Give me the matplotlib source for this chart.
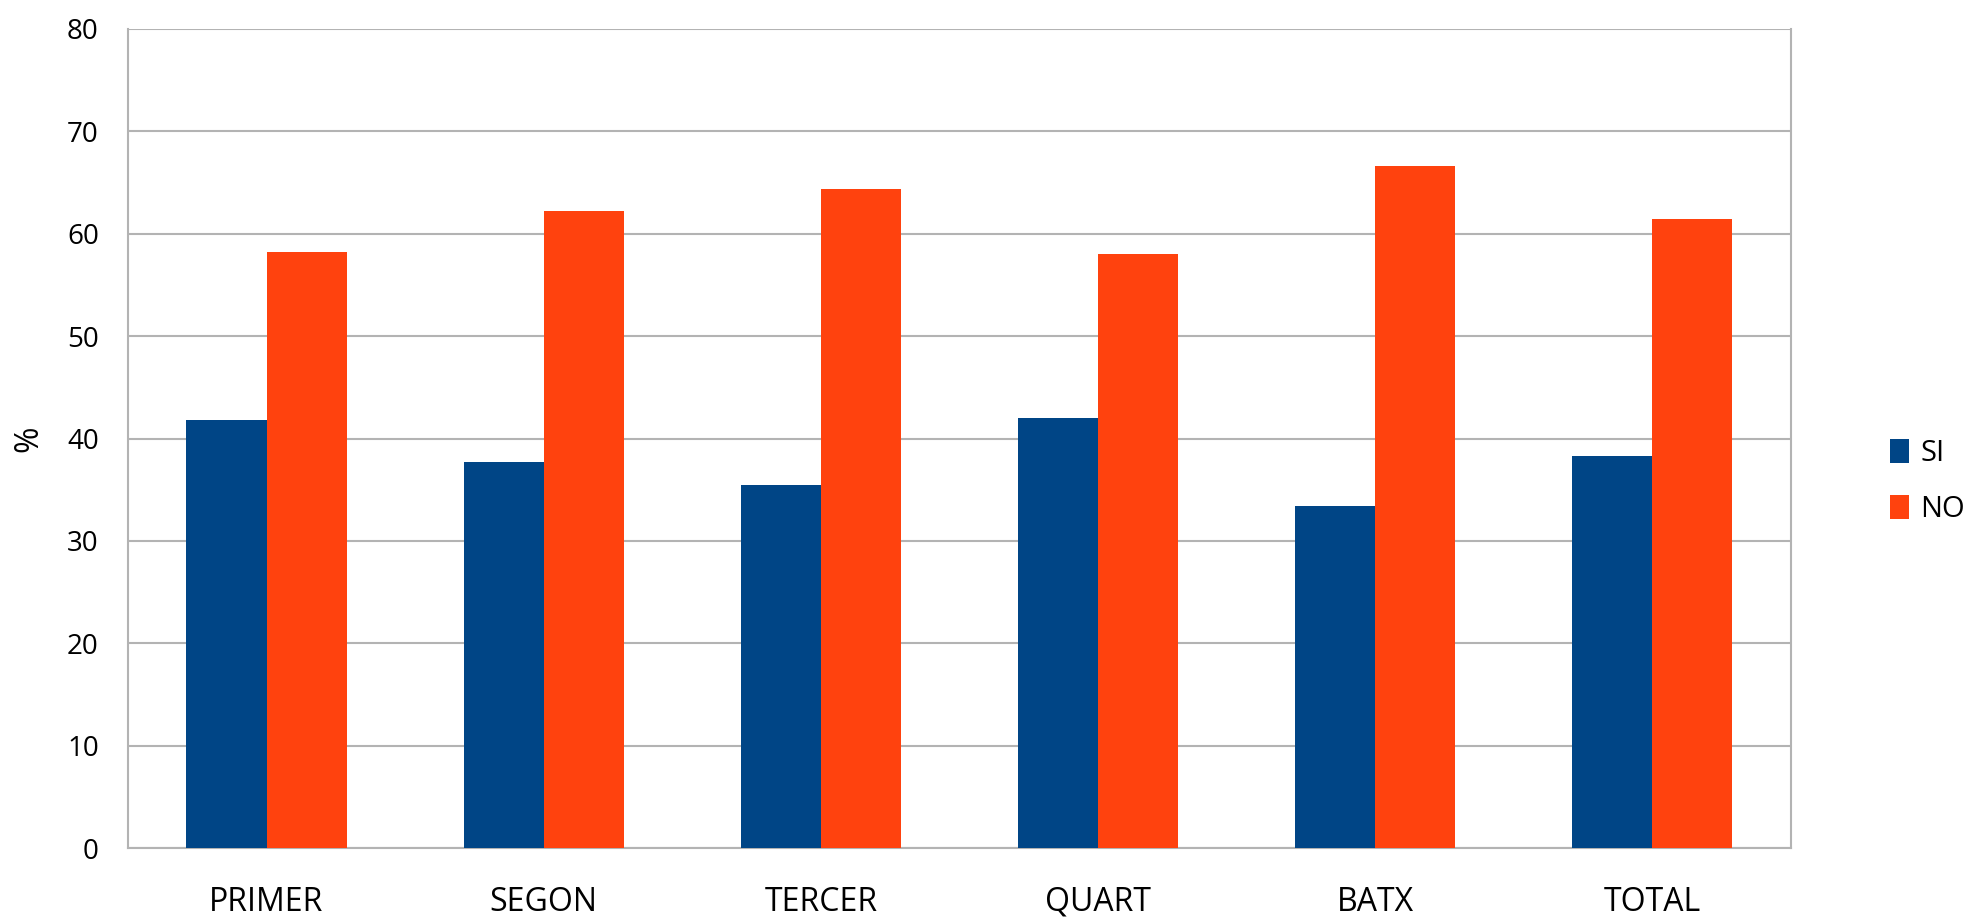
import matplotlib
matplotlib.use("Agg")
import matplotlib.pyplot as plt
import numpy as np

plt.rcParams['font.family'] = ['Open Sans', 'DejaVu Sans']

categories = ['PRIMER', 'SEGON', 'TERCER', 'QUART', 'BATX', 'TOTAL']
si = [41.8, 37.7, 35.5, 42.0, 33.4, 38.3]
no = [58.2, 62.2, 64.4, 58.0, 66.6, 61.4]

fig = plt.figure(figsize=(19.75, 9.17), dpi=100)
ax = fig.add_axes([0.0648, 0.0752, 0.8420, 0.8932])

x = np.arange(len(categories))
w = 0.289
ax.bar(x - w / 2, si, w, color='#004586', label='SI', zorder=3)
ax.bar(x + w / 2, no, w, color='#ff420e', label='NO', zorder=3)

ax.set_xlim(-0.5, len(categories) - 0.5)
ax.set_ylim(0, 80)
ax.set_yticks(range(0, 81, 10))
ax.yaxis.grid(True, color='#b3b3b3', linewidth=1.5, zorder=0)
ax.set_xticks(x)
ax.set_xticklabels(categories, fontsize=23)
ax.tick_params(axis='y', labelsize=20, length=0, pad=21)
ax.tick_params(axis='x', length=0, pad=27)
for s in ax.spines.values():
    s.set_color('#b3b3b3')
    s.set_linewidth(1.5)
ax.spines['top'].set_visible(False)

# y label placed by hand so it is not cut at the left edge
fig.text(0.0147, 0.522, '%', rotation=90, ha='center', va='center', fontsize=23)

fig.legend(loc='center left', bbox_to_anchor=(0.951, 0.475), frameon=False,
           fontsize=21, handlelength=0.65, handleheight=0.9, handletextpad=0.4,
           labelspacing=0.9, borderaxespad=0)

fig.savefig('out.png', dpi=100)
